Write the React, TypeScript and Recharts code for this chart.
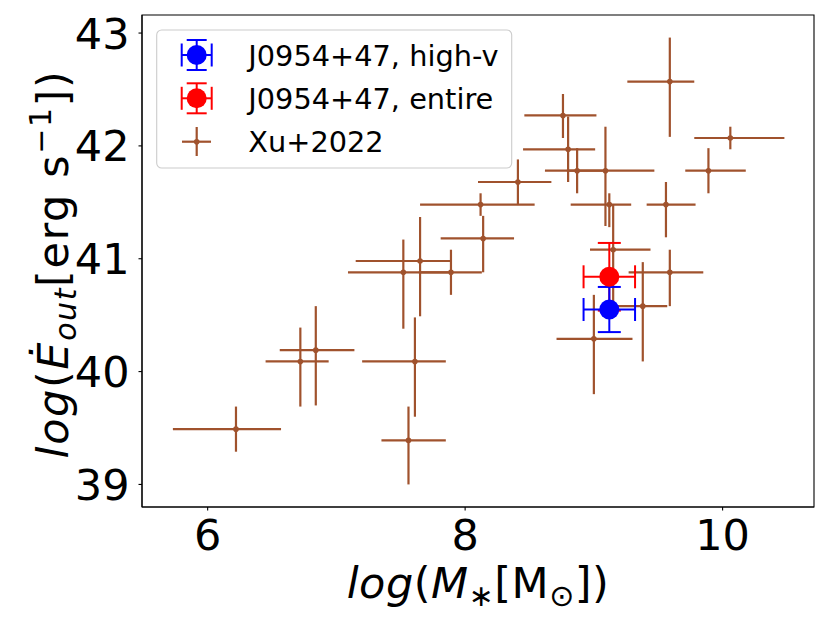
import { ErrorBar, ReferenceArea, Scatter, ScatterChart, XAxis, YAxis } from "recharts";

// Xu+2022 sample: log stellar mass vs log outflow energy rate
const xuMass = [6.22, 6.72, 6.84, 7.56, 7.61, 7.52, 7.65, 7.89, 8.12, 8.14, 9.59, 8.76, 10.06, 8.8, 8.87, 9.09, 9.89, 8.41, 9.12, 9.56, 9.15, 9.59, 9.38, 9.0];
const xuEnergy = [39.49, 40.09, 40.19, 39.39, 40.09, 40.88, 40.98, 40.88, 41.48, 41.18, 42.57, 42.27, 42.07, 41.97, 41.78, 41.78, 41.78, 41.68, 41.48, 41.48, 41.08, 40.88, 40.58, 40.29];
const xuMassErrLow = [0.49, 0.27, 0.28, 0.21, 0.41, 0.43, 0.5, 0.25, 0.47, 0.33, 0.33, 0.3, 0.28, 0.35, 0.25, 0.3, 0.18, 0.31, 0.3, 0.15, 0.18, 0.32, 0.2, 0.29];
const xuMassErrHigh = [0.35, 0.22, 0.3, 0.29, 0.24, 0.35, 0.24, 0.24, 0.42, 0.24, 0.19, 0.26, 0.42, 0.21, 0.2, 0.38, 0.29, 0.26, 0.17, 0.23, 0.29, 0.26, 0.19, 0.3];
const xuEnergyErrLow = [0.2, 0.4, 0.49, 0.39, 0.49, 0.5, 0.49, 0.2, 0.1, 0.3, 0.49, 0.2, 0.1, 0.29, 0.2, 0.49, 0.2, 0.2, 0.2, 0.29, 0.5, 0.3, 0.49, 0.49];
const xuEnergyErrHigh = [0.2, 0.3, 0.39, 0.3, 0.39, 0.29, 0.39, 0.2, 0.1, 0.2, 0.39, 0.19, 0.1, 0.29, 0.2, 0.39, 0.2, 0.2, 0.1, 0.2, 0.4, 0.2, 0.39, 0.39];

// J0954+47
const entireMass = [9.12];
const entireEnergy = [40.84];
const entireMassErr = [0.2];
const entireEnergyErr = [0.3];

const highvMass = [9.12];
const highvEnergy = [40.55];
const highvMassErr = [0.2];
const highvEnergyErr = [0.2];

const xTicks = [6, 8, 10];
const yTicks = [39, 40, 41, 42, 43];
const xDomain = [5.49, 10.71];
const yDomain = [38.8, 43.16];

const legendLabels = ["J0954+47, high-v", "J0954+47, entire", "Xu+2022"];

const xuData = xuMass.map((m, i) => ({
  x: m,
  y: xuEnergy[i],
  ex: [xuMassErrLow[i], xuMassErrHigh[i]],
  ey: [xuEnergyErrLow[i], xuEnergyErrHigh[i]],
}));
const entireData = entireMass.map((m, i) => ({ x: m, y: entireEnergy[i], ex: entireMassErr[i], ey: entireEnergyErr[i] }));
const highvData = highvMass.map((m, i) => ({ x: m, y: highvEnergy[i], ex: highvMassErr[i], ey: highvEnergyErr[i] }));

const SIENNA = "#a0522d";
const FONT = "'DejaVu Sans', sans-serif";

const XTick = (props: any) => (
  <text x={props.x} y={props.y} dy={37.5} textAnchor="middle" fontSize={43} fontFamily={FONT} fill="#000">
    {props.payload.value}
  </text>
);

const YTick = (props: any) => (
  <text x={props.x} y={props.y} dx={-7} dy={15.5} textAnchor="end" fontSize={43} fontFamily={FONT} fill="#000">
    {props.payload.value}
  </text>
);

const dot = (r: number, fill: string) => (p: any) => <circle cx={p.cx} cy={p.cy} r={r} fill={fill} />;

function ErrIcon({ cy, color }: { cy: number; color: string }) {
  const cx = 196.7;
  return (
    <g stroke={color} strokeWidth={2} fill="none">
      <line x1={cx - 15} y1={cy} x2={cx + 15} y2={cy} />
      <line x1={cx} y1={cy - 15} x2={cx} y2={cy + 15} />
      <line x1={cx - 15} y1={cy - 11.5} x2={cx - 15} y2={cy + 11.5} />
      <line x1={cx + 15} y1={cy - 11.5} x2={cx + 15} y2={cy + 11.5} />
      <line x1={cx - 10} y1={cy - 15} x2={cx + 10} y2={cy - 15} />
      <line x1={cx - 10} y1={cy + 15} x2={cx + 10} y2={cy + 15} />
      <circle cx={cx} cy={cy} r={10} fill={color} stroke="none" />
    </g>
  );
}

export default function App() {
  return (
    <div style={{ position: "absolute", left: 0, top: 0, width: 830, height: 623, background: "#fff" }}>
      <ScatterChart width={830} height={623} margin={{ top: 15, right: 16, bottom: 0, left: 0 }}>
        <XAxis
          type="number"
          dataKey="x"
          domain={xDomain}
          ticks={xTicks}
          allowDataOverflow
          height={116}
          tickSize={3.5}
          tickMargin={2}
          axisLine={{ stroke: "#000", strokeWidth: 1.1 }}
          tickLine={{ stroke: "#000", strokeWidth: 1.1 }}
          tick={(p: any) => <XTick {...p} />}
        />
        <YAxis
          type="number"
          dataKey="y"
          domain={yDomain}
          ticks={yTicks}
          allowDataOverflow
          width={142}
          tickSize={3.5}
          tickMargin={2}
          axisLine={{ stroke: "#000", strokeWidth: 1.1 }}
          tickLine={{ stroke: "#000", strokeWidth: 1.1 }}
          tick={(p: any) => <YTick {...p} />}
        />
        <ReferenceArea x1={xDomain[0]} x2={xDomain[1]} y1={yDomain[0]} y2={yDomain[1]} fill="none" stroke="#000" strokeWidth={1.1} />
        <Scatter data={xuData} isAnimationActive={false} shape={dot(2.8, SIENNA)}>
          <ErrorBar dataKey="ex" direction="x" width={0} stroke={SIENNA} strokeWidth={2.2} />
          <ErrorBar dataKey="ey" direction="y" width={0} stroke={SIENNA} strokeWidth={2.2} />
        </Scatter>
        <Scatter data={entireData} isAnimationActive={false} shape={dot(10, "#ff0000")}>
          <ErrorBar dataKey="ex" direction="x" width={11.5} stroke="#ff0000" strokeWidth={2} />
          <ErrorBar dataKey="ey" direction="y" width={11.5} stroke="#ff0000" strokeWidth={2} />
        </Scatter>
        <Scatter data={highvData} isAnimationActive={false} shape={dot(10, "#0000ff")}>
          <ErrorBar dataKey="ex" direction="x" width={11.5} stroke="#0000ff" strokeWidth={2} />
          <ErrorBar dataKey="ey" direction="y" width={11.5} stroke="#0000ff" strokeWidth={2} />
        </Scatter>
      </ScatterChart>
      <svg width={830} height={623} style={{ position: "absolute", left: 0, top: 0, pointerEvents: "none" }} fontFamily={FONT}>
        <rect x={156.7} y={30} width={355} height={138} rx={5} fill="#fff" fillOpacity={0.8} stroke="#cccccc" strokeWidth={1.1} />
        <ErrIcon cy={55} color="#0000ff" />
        <ErrIcon cy={98.3} color="#ff0000" />
        <g stroke={SIENNA} strokeWidth={2.2}>
          <line x1={182} y1={141.7} x2={211} y2={141.7} />
          <line x1={196.7} y1={127} x2={196.7} y2={156} />
        </g>
        <circle cx={196.7} cy={141.7} r={2.8} fill={SIENNA} />
        {legendLabels.map((t, i) => (
          <text key={t} x={248.3} y={65.5 + i * 43.2} fontSize={28.8} fill="#000">
            {t}
          </text>
        ))}
        <text x={478} y={598} textAnchor="middle" fontSize={43} fill="#000" letterSpacing={0.5}>
          <tspan fontStyle="italic">log</tspan>
          <tspan>(</tspan>
          <tspan fontStyle="italic">M</tspan>
          <tspan fontStyle="italic" fontSize={30} dy={8}>∗</tspan>
          <tspan dy={-8}>[M</tspan>
          <tspan fontSize={30} dy={8}>⊙</tspan>
          <tspan dy={-8}>])</tspan>
        </text>
        <text transform="translate(68,264) rotate(-90)" textAnchor="middle" fontSize={43} fill="#000" letterSpacing={1.6}>
          <tspan fontStyle="italic">log</tspan>
          <tspan>(</tspan>
          <tspan fontStyle="italic">Ė</tspan>
          <tspan fontStyle="italic" fontSize={30} dy={8}>out</tspan>
          <tspan dy={-8}>[erg s</tspan>
          <tspan fontSize={30} dy={-17}>−1</tspan>
          <tspan dy={17}>])</tspan>
        </text>
      </svg>
    </div>
  );
}
